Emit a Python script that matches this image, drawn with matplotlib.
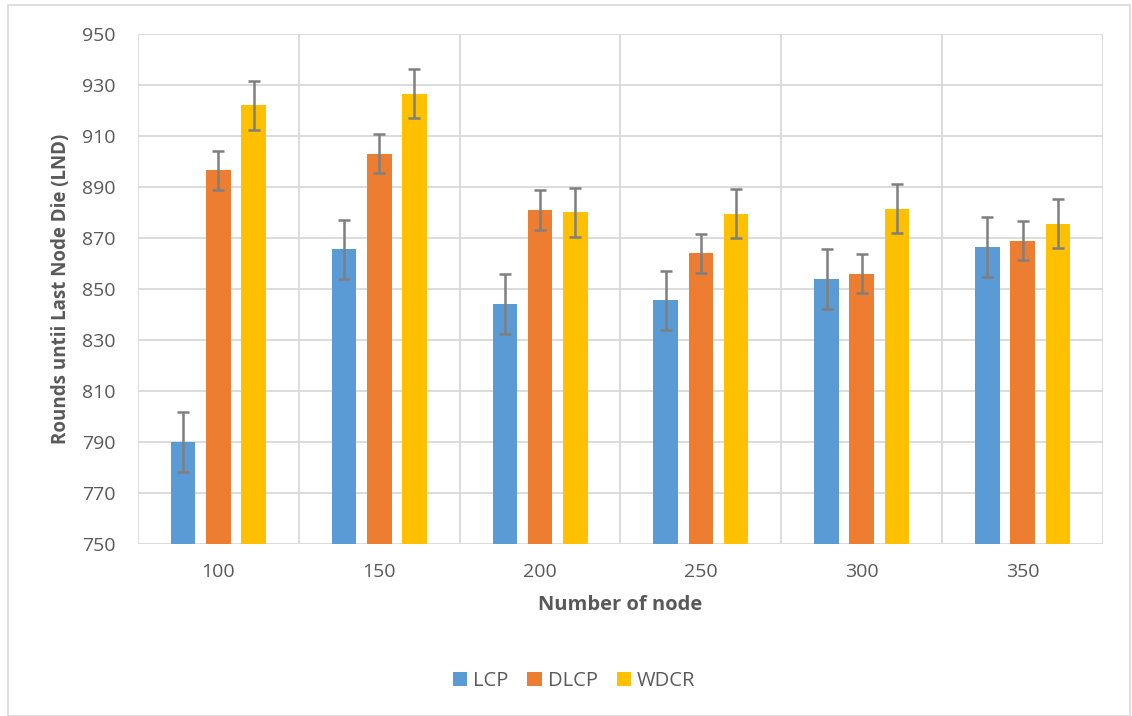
import numpy as np
import matplotlib.pyplot as plt
from matplotlib.patches import Rectangle

# Data
nodes = ['100', '150', '200', '250', '300', '350']
lcp = [790, 865.5, 844, 845.5, 854, 866.5]
dlcp = [896.5, 903, 881, 864, 856, 869]
wdcr = [922, 926.5, 880, 879.5, 881.5, 875.5]
lcp_err = [11.7, 11.7, 11.7, 11.7, 11.7, 11.7]
dlcp_err = [7.7, 7.7, 7.7, 7.7, 7.7, 7.7]
wdcr_err = [9.6, 9.6, 9.6, 9.6, 9.6, 9.6]

plt.rcParams['font.family'] = ['Open Sans', 'DejaVu Sans']
text_col = '#595959'
grid_col = '#d9d9d9'

fig = plt.figure(figsize=(11.32, 7.16), dpi=100)
ax = fig.add_axes([138 / 1132, 1 - 544 / 716, 965 / 1132, 510 / 716])

x = np.arange(len(nodes))
w = 0.153
step = 0.219
err_style = dict(ecolor='#7f7f7f', elinewidth=1.8, capsize=4.5, capthick=1.8)

ax.bar(x - step, [v - 750 for v in lcp], w, bottom=750, color='#5b9bd5', label='LCP',
       yerr=lcp_err, error_kw=err_style, zorder=3)
ax.bar(x, [v - 750 for v in dlcp], w, bottom=750, color='#ed7d31', label='DLCP',
       yerr=dlcp_err, error_kw=err_style, zorder=3)
ax.bar(x + step, [v - 750 for v in wdcr], w, bottom=750, color='#ffc000', label='WDCR',
       yerr=wdcr_err, error_kw=err_style, zorder=3)

ax.set_xlim(-0.5, len(nodes) - 0.5)
ax.set_ylim(750, 950)
ax.set_yticks(range(750, 951, 20))
ax.set_xticks(x)
ax.set_xticklabels(nodes)

# category boundary gridlines
ax.set_xticks(np.arange(-0.5, len(nodes), 1), minor=True)
ax.grid(axis='y', which='major', color=grid_col, linewidth=1.3, zorder=0)
ax.grid(axis='x', which='minor', color=grid_col, linewidth=1.3, zorder=0)
ax.tick_params(which='both', length=0)
ax.tick_params(axis='both', labelsize=14, colors=text_col)
ax.tick_params(axis='y', pad=16)
ax.tick_params(axis='x', pad=14)
for s in ax.spines.values():
    s.set_visible(False)

ax.set_xlabel('Number of node', fontsize=14.5, fontweight='bold', color=text_col, labelpad=10)
ax.set_ylabel('Rounds untii Last Node Die (LND)', fontsize=13.5, fontweight='bold',
              color=text_col, labelpad=8)

leg = fig.legend(loc='center', bbox_to_anchor=(574 / 1132, 1 - 681 / 716), ncol=3, frameon=False,
                 fontsize=14.5, handlelength=0.7, handleheight=0.7, columnspacing=0.95,
                 handletextpad=0.3)
for t in leg.get_texts():
    t.set_color(text_col)

# outer chart border
fig.patches.append(Rectangle((8 / 1132, 0), 1122 / 1132, 1 - 5 / 716, transform=fig.transFigure,
                             fill=False, edgecolor=grid_col, linewidth=1.2))

fig.savefig('out.png', dpi=100)
